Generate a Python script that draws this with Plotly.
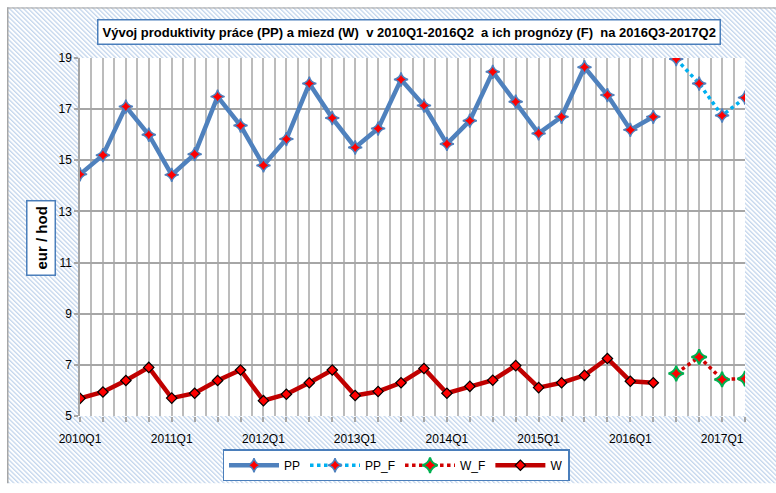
import base64
import plotly.graph_objects as go

# ---- data ----
quarters = [f"{y}Q{q}" for y in range(2010, 2018) for q in range(1, 5)][:30]
hist_quarters = quarters[:26]          # 2010Q1 - 2016Q2
fc_quarters = quarters[26:30]          # 2016Q3 - 2017Q2

pp = [14.45, 15.20, 17.10, 16.00, 14.43, 15.24, 17.49, 16.36,
      14.80, 15.83, 18.00, 16.65, 15.50, 16.24, 18.16, 17.14,
      15.64, 16.55, 18.46, 17.29, 16.05, 16.70, 18.64, 17.55,
      16.19, 16.70]
pp_f = [18.96, 18.00, 16.75, 17.45]
w = [5.69, 5.94, 6.39, 6.90, 5.70, 5.89, 6.39, 6.80,
     5.60, 5.85, 6.30, 6.80, 5.80, 5.96, 6.30, 6.86,
     5.89, 6.16, 6.40, 6.97, 6.11, 6.30, 6.59, 7.25,
     6.36, 6.30]
w_f = [6.66, 7.31, 6.43, 6.46]

y_ticks = [5, 7, 9, 11, 13, 15, 17, 19]

title_text = ("Vývoj produktivity práce (PP) a miezd (W)\u00a0 v 2010Q1-2016Q2\u00a0 "
              "a ich prognózy (F)\u00a0 na 2016Q3-2017Q2")

idx = {q: i for i, q in enumerate(quarters)}
x_hist = [idx[q] for q in hist_quarters]
x_fc = [idx[q] for q in fc_quarters]
tick_text = [q if q.endswith("Q1") else "" for q in quarters]

FONT = "Liberation Sans, Arial, sans-serif"
BLUE_BORDER = "#4a7ebb"

fig = go.Figure()

fig.add_trace(go.Scatter(
    x=x_hist, y=pp, name="PP", mode="lines+markers", legendrank=1,
    line=dict(color="#4f81bd", width=4.5),
    marker=dict(symbol="star-diamond", size=10, color="#ff0000",
                line=dict(color="#4f81bd", width=1.5))))
fig.add_trace(go.Scatter(
    x=x_fc, y=pp_f, name="PP_F", mode="lines+markers", legendrank=2,
    line=dict(color="#00b0f0", width=3.5, dash="dot"),
    marker=dict(symbol="star-diamond", size=10, color="#ff0000",
                line=dict(color="#4f81bd", width=1.5))))
fig.add_trace(go.Scatter(
    x=x_fc, y=w_f, name="W_F", mode="lines+markers", legendrank=3,
    line=dict(color="#d00000", width=3.5, dash="dot"),
    marker=dict(symbol="star-diamond", size=11, color="#ff0000",
                line=dict(color="#00b050", width=2))))
fig.add_trace(go.Scatter(
    x=x_hist, y=w, name="W", mode="lines+markers", legendrank=4,
    line=dict(color="#c00000", width=4.5),
    marker=dict(symbol="diamond", size=8, color="#ff0000",
                line=dict(color="#000000", width=1.2))))

# hatched chart-area background (decoration)
svg = (
    "<svg xmlns='http://www.w3.org/2000/svg' width='769' height='487' "
    "viewBox='0 0 769 487' preserveAspectRatio='none'>"
    "<defs><pattern id='h' patternUnits='userSpaceOnUse' width='3.3' height='3.3' "
    "patternTransform='rotate(-45)'>"
    "<rect x='0' y='0' width='1.3' height='3.3' fill='#c3d5ec'/></pattern></defs>"
    "<rect width='769' height='487' fill='white'/>"
    "<rect width='769' height='487' fill='url(#h)'/>"
    "<rect x='73' y='52' width='665' height='366' fill='white'/>"
    "<line x1='0' y1='0.75' x2='769' y2='0.75' stroke='#a6a6a6' stroke-width='1.5'/>"
    "<line x1='0.75' y1='0' x2='0.75' y2='487' stroke='#a6a6a6' stroke-width='1.5'/>"
    "</svg>"
)
src = "data:image/svg+xml;base64," + base64.b64encode(svg.encode()).decode()

PW, PH = 665.0, 366.0
fig.add_layout_image(dict(
    source=src, xref="paper", yref="paper",
    x=(7 - 80) / PW, y=(424 - 6) / PH,
    sizex=769 / PW, sizey=487 / PH,
    xanchor="left", yanchor="top", sizing="stretch", layer="below"))

fig.add_annotation(
    text=f"<b>{title_text}</b>", xref="paper", yref="paper",
    x=(409 - 80) / PW, y=(424 - 31) / PH, xanchor="center", yanchor="middle",
    showarrow=False, font=dict(family=FONT, size=13, color="#000000"),
    bgcolor="white", bordercolor=BLUE_BORDER, borderwidth=1.5, borderpad=4)

fig.add_annotation(
    text="<b>eur / hod</b>", xref="paper", yref="paper",
    x=(41 - 80) / PW, y=(424 - 242) / PH, xanchor="center", yanchor="middle",
    textangle=-90, showarrow=False, font=dict(family=FONT, size=15, color="#000000"),
    bgcolor="white", bordercolor=BLUE_BORDER, borderwidth=1.5, borderpad=5)

fig.update_layout(
    width=776, height=493,
    margin=dict(l=80, r=31, t=58, b=69),
    paper_bgcolor="white", plot_bgcolor="white",
    font=dict(family=FONT, size=12, color="#000000"),
    showlegend=True,
    legend=dict(orientation="h", x=(396 - 80) / PW, xanchor="center",
                y=(424 - 458) / PH, yanchor="top",
                bgcolor="white", bordercolor=BLUE_BORDER, borderwidth=1.5,
                font=dict(family=FONT, size=12, color="#000000"),
                itemwidth=50, traceorder="normal"),
    xaxis=dict(range=[0, 29], tickmode="array",
               tickvals=list(range(len(quarters))), ticktext=tick_text,
               showgrid=True, gridcolor="#bcbcbc", gridwidth=1.5,
               minor=dict(dtick=0.5, tick0=0, showgrid=True, gridcolor="#bcbcbc",
                          gridwidth=1.5, ticks=""),
               ticks="outside", ticklen=5, tickcolor="#a6a6a6", tickwidth=1.5,
               ticklabelstandoff=7,
               tickangle=0, zeroline=False, showline=False,
               tickfont=dict(family=FONT, size=12, color="#000000")),
    yaxis=dict(range=[5, 19], tickmode="array", tickvals=y_ticks,
               showgrid=True, gridcolor="#a6a6a6", gridwidth=1.5,
               ticks="outside", ticklen=4, tickcolor="#a6a6a6", tickwidth=1.5,
               showline=True, linecolor="#a6a6a6", linewidth=1.5,
               zeroline=False,
               tickfont=dict(family=FONT, size=12, color="#000000")),
)

fig.write_html(
    "out.html",
    config={"displayModeBar": False},
    post_script="document.body.style.margin='0';document.body.style.overflow='hidden';",
)
